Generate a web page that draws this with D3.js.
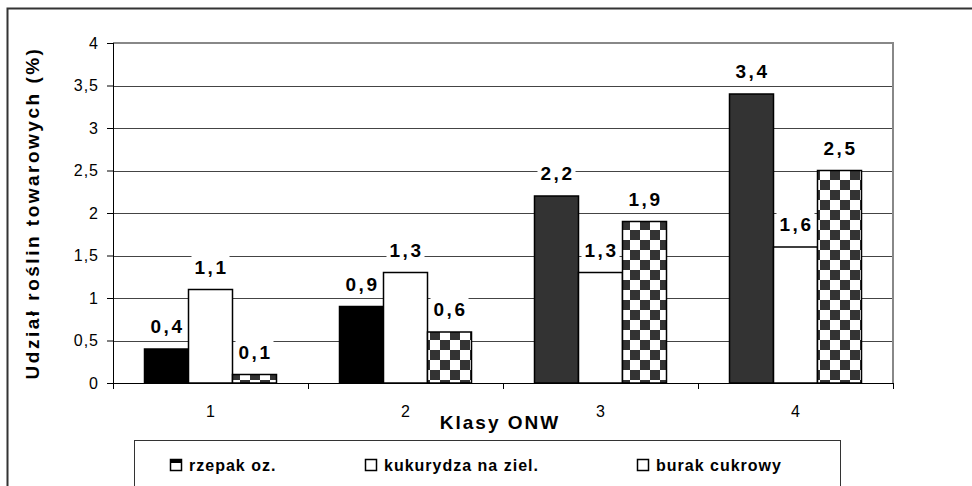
<!DOCTYPE html>
<html>
<head>
<meta charset="utf-8">
<script src="https://cdn.jsdelivr.net/npm/d3@7"></script>
<style>
  body { margin: 0; background: #fff; }
  svg { display: block; font-family: Arial, "Liberation Sans", sans-serif; }
</style>
</head>
<body>
<svg id="chart" width="972" height="486"></svg>
<script>
// chart values
var classes = ["1", "2", "3", "4"];
var seriesNames = ["rzepak oz.", "kukurydza na ziel.", "burak cukrowy"];
var rzepak = [0.4, 0.9, 2.2, 3.4];
var kukurydza = [1.1, 1.3, 1.3, 1.6];
var burak = [0.1, 0.6, 1.9, 2.5];
var yTicks = [0, 0.5, 1, 1.5, 2, 2.5, 3, 3.5, 4];

var svg = d3.select("#chart");

var plot = { left: 113, right: 893, top: 43, bottom: 383 };

var x = d3.scaleBand().domain(classes).range([plot.left, plot.right]).padding(0);
var xSub = d3.scaleBand().domain(d3.range(3)).range([31.5, 163.5]).padding(0);
var y = d3.scaleLinear().domain([0, 4]).range([plot.bottom, plot.top]);

var fmt = function(v) { return String(v).replace(".", ","); };

// checker pattern for burak
var sq = 10;
var defs = svg.append("defs");
var pat = defs.append("pattern")
    .attr("id", "checker")
    .attr("patternUnits", "userSpaceOnUse")
    .attr("width", sq * 2)
    .attr("height", sq * 2);
pat.append("rect").attr("width", sq * 2).attr("height", sq * 2).attr("fill", "#fff");
pat.append("rect").attr("width", sq).attr("height", sq).attr("fill", "#333");
pat.append("rect").attr("x", sq).attr("y", sq).attr("width", sq).attr("height", sq).attr("fill", "#333");

// outer frame (cropped on right/bottom)
svg.append("rect")
    .attr("x", 7.5).attr("y", 8.5)
    .attr("width", 1000).attr("height", 600)
    .attr("fill", "#fff")
    .attr("stroke", "#333")
    .attr("stroke-width", 2);

// gridlines
svg.append("g")
    .selectAll("line")
    .data(yTicks.filter(function(d) { return d > 0 && d < 4; }))
    .join("line")
    .attr("x1", plot.left).attr("x2", plot.right)
    .attr("y1", function(d) { return Math.round(y(d)) + 0.5; })
    .attr("y2", function(d) { return Math.round(y(d)) + 0.5; })
    .attr("stroke", "#444")
    .attr("stroke-width", 1);

// plot border top/right (gray)
svg.append("path")
    .attr("d", "M" + plot.left + "," + plot.top + "H" + plot.right + "V" + plot.bottom)
    .attr("fill", "none")
    .attr("stroke", "#888")
    .attr("stroke-width", 2);

// bars
var series = [rzepak, kukurydza, burak];
var rzepakFill = ["#000", "#000", "#333", "#333"];

var rows = [];
classes.forEach(function(c, i) {
    series.forEach(function(s, j) {
        rows.push({ cls: c, ci: i, sj: j, value: s[i] });
    });
});

var fillFor = function(d) {
    if (d.sj === 0) return rzepakFill[d.ci];
    if (d.sj === 1) return "#fff";
    return "url(#checker)";
};

svg.append("g")
    .selectAll("rect")
    .data(rows)
    .join("rect")
    .attr("x", function(d) { return x(d.cls) + xSub(d.sj); })
    .attr("y", function(d) { return y(d.value); })
    .attr("width", xSub.bandwidth())
    .attr("height", function(d) { return y(0) - y(d.value); })
    .attr("fill", fillFor)
    .attr("stroke", "#000")
    .attr("stroke-width", 1.5);

// value labels with white box
var labels = svg.append("g")
    .selectAll("g")
    .data(rows)
    .join("g")
    .attr("transform", function(d) {
        return "translate(" + (x(d.cls) + xSub(d.sj) + xSub.bandwidth() / 2) + "," + (y(d.value) - 16) + ")";
    });
labels.append("rect")
    .attr("x", -19).attr("y", -18)
    .attr("width", 38).attr("height", 19)
    .attr("fill", "#fff");
labels.append("text")
    .attr("x", 1)
    .attr("text-anchor", "middle")
    .attr("font-size", 19)
    .attr("font-weight", "bold")
    .attr("letter-spacing", 2.5)
    .attr("fill", "#000")
    .text(function(d) { return fmt(d.value); });

// y axis
var yAxis = d3.axisLeft(y)
    .tickValues(yTicks)
    .tickSize(6)
    .tickPadding(8)
    .tickFormat(fmt);
var gy = svg.append("g")
    .attr("transform", "translate(" + plot.left + ",0)")
    .call(yAxis);
gy.select(".domain").attr("stroke", "#000").attr("d", "M0.5," + plot.top + "V" + plot.bottom);
gy.selectAll(".tick line").attr("stroke", "#000");
gy.selectAll(".tick text")
    .attr("font-size", 16)
    .attr("letter-spacing", 1)
    .attr("font-family", "Arial, 'Liberation Sans', sans-serif")
    .attr("fill", "#000");

// x axis
var xAxis = d3.axisBottom(x).tickSize(0).tickPadding(23);
var gx = svg.append("g")
    .attr("transform", "translate(0," + plot.bottom + ")")
    .call(xAxis);
gx.select(".domain").attr("stroke", "#000").attr("d", "M" + plot.left + ",0.5H" + plot.right);
gx.selectAll(".tick text")
    .attr("font-size", 16)
    .attr("font-family", "Arial, 'Liberation Sans', sans-serif")
    .attr("fill", "#000");
// category boundary ticks
gx.append("g")
    .selectAll("line")
    .data(classes.map(function(c) { return x(c); }).concat([plot.right]))
    .join("line")
    .attr("x1", function(d) { return d + 0.5; })
    .attr("x2", function(d) { return d + 0.5; })
    .attr("y1", 0).attr("y2", 6)
    .attr("stroke", "#000");

// axis titles
svg.append("text")
    .attr("x", 500).attr("y", 429)
    .attr("text-anchor", "middle")
    .attr("font-size", 19)
    .attr("font-weight", "bold")
    .attr("letter-spacing", 2)
    .text("Klasy ONW");

svg.append("text")
    .attr("transform", "translate(39," + ((plot.top + plot.bottom) / 2) + ") rotate(-90)")
    .attr("text-anchor", "middle")
    .attr("font-size", 19)
    .attr("font-weight", "bold")
    .attr("letter-spacing", 2.5)
    .text("Udział roślin towarowych (%)");

// legend
svg.append("rect")
    .attr("x", 134.5).attr("y", 440.5)
    .attr("width", 706).attr("height", 80)
    .attr("fill", "#fff")
    .attr("stroke", "#333")
    .attr("stroke-width", 1);

var legendX = [170, 365, 637];
var leg = svg.append("g")
    .selectAll("g")
    .data(seriesNames)
    .join("g")
    .attr("transform", function(d, i) { return "translate(" + legendX[i] + ",459)"; });
leg.append("rect")
    .attr("x", 0.5).attr("y", 0.5)
    .attr("width", 11).attr("height", 11)
    .attr("fill", "#fff")
    .attr("stroke", "#000")
    .attr("stroke-width", 1.5);
leg.filter(function(d, i) { return i === 0; })
    .append("rect")
    .attr("x", 0.5).attr("y", 0.5)
    .attr("width", 11).attr("height", 3.5)
    .attr("fill", "#000");
leg.append("text")
    .attr("x", 19).attr("y", 12)
    .attr("font-size", 16)
    .attr("font-weight", "bold")
    .attr("letter-spacing", 1)
    .text(function(d) { return d; });
</script>
</body>
</html>
